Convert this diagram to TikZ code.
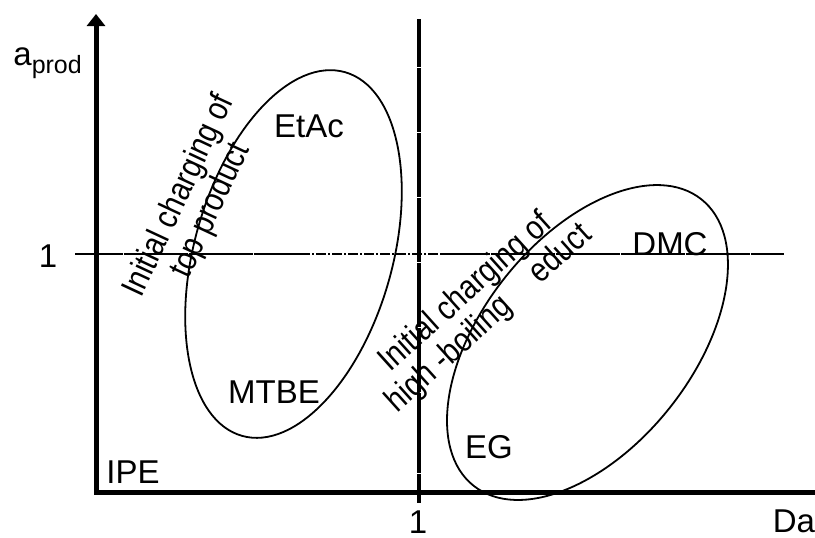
\documentclass[tikz,border=0pt]{standalone}
\usepackage{fontspec}
\setmainfont{Liberation Sans}
\usetikzlibrary{arrows.meta}

\tikzset{
  axis/.style={line width=2.5pt, line join=miter},
  guide/.style={line width=1.4pt, dash pattern=on 8pt off 0.12pt},
  region/.style={line width=0.9pt},
  lbl/.style={font=\fontsize{16.5}{19}\selectfont, anchor=base, inner sep=0pt},
  note/.style={font=\fontsize{17}{17}\selectfont, inner sep=0pt}
}
\newcommand{\narrow}[1]{\scalebox{0.85}[1]{\begin{tabular}{@{}c@{}}#1\end{tabular}}}

\begin{document}
\begin{tikzpicture}[x=0.5pt, y=-0.5pt]
    \useasboundingbox (0,0) rectangle (815,537);

    % Axes
    \coordinate (ytip) at (96,14);
    \coordinate (origin) at (96,492);
    \coordinate (xend) at (815,492);
    \draw[axis, {Triangle[width=9pt,length=6pt]}-] (ytip) -- (origin) -- (xend);

    % Guide lines at 1
    \coordinate (hstart) at (75,254);
    \coordinate (hmid1) at (300,254);
    \coordinate (hmid2) at (442,254);
    \coordinate (hend) at (784,254);
    \draw[guide] (hstart) -- (hmid1);
    \draw[line width=0.9pt, dash pattern=on 5pt off 1pt on 1pt off 1pt] (hmid1) -- (hmid2);
    \draw[guide] (hmid2) -- (hend);
    \coordinate (vtop) at (419,19);
    \coordinate (vbot) at (419,503);
    \draw[guide, line width=1.9pt] (vtop) -- (vbot);

    % Regions
    \coordinate (topc) at (293.5,254);
    \coordinate (eduktc) at (587.5,342.5);
    \draw[region, rotate around={74.2:(topc)}] (topc) ellipse [x radius=189, y radius=99];
    \draw[region, rotate around={51.5:(eduktc)}] (eduktc) ellipse [x radius=183, y radius=105];

    % Labels
    \node[anchor=base west, inner sep=0pt, font=\fontsize{16.5}{19}\selectfont] (aprod) at (13,65)
        {a\raisebox{-4pt}{\fontsize{12.5}{14}\selectfont prod}};
    \node[lbl] (yone) at (48,267) {1};
    \node[lbl] (xone) at (418,533) {1};
    \node[lbl] (da) at (794,532) {Da};
    \node[lbl] (etac) at (309,137) {EtAc};
    \node[lbl] (mtbe) at (274,403) {MTBE};
    \node[lbl] (dmc) at (670,255) {DMC};
    \node[lbl] (eg) at (489,458) {EG};
    \node[lbl] (ipe) at (133,483) {IPE};

    % Notes
    \node[note, rotate=65] (toptext) at (197,204) {\narrow{Initial charging of\\top product}};
    \node[note, rotate=42] (educttext) at (479,307) {\narrow{Initial charging of\\high -boiling\hspace{1em} educt}};
\end{tikzpicture}
\end{document}
